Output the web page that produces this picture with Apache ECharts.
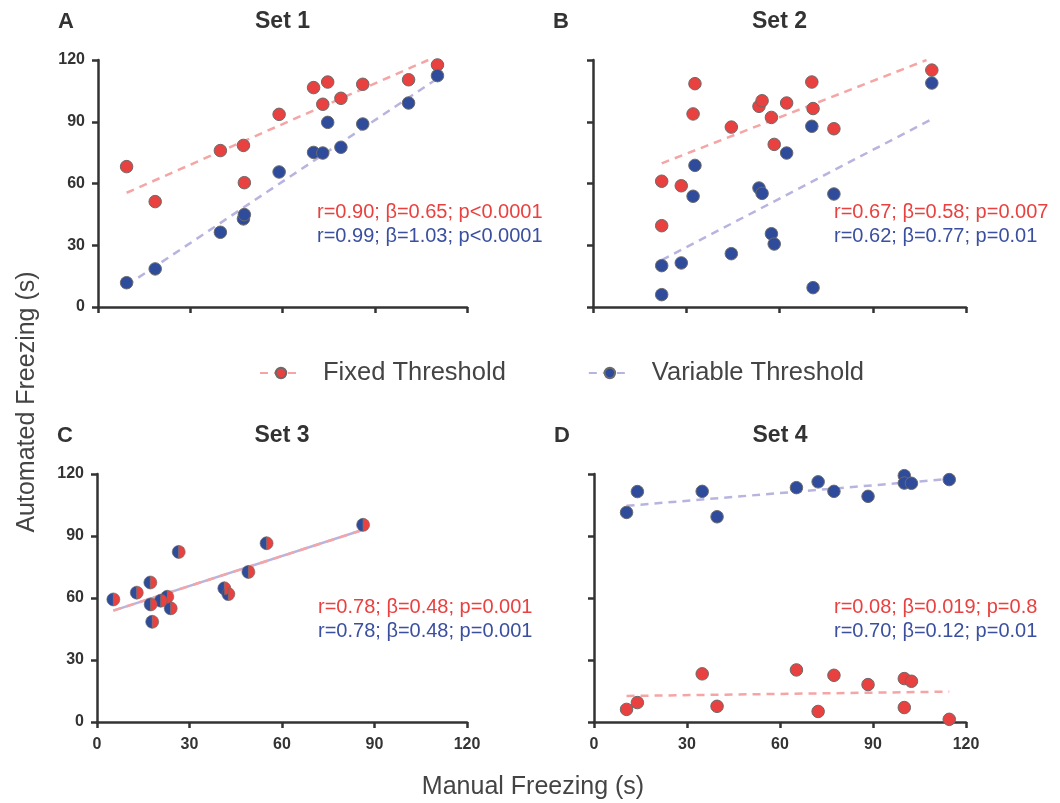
<!DOCTYPE html>
<html>
<head>
<meta charset="utf-8">
<script src="https://cdn.jsdelivr.net/npm/echarts@6/dist/echarts.min.js"></script>
<style>
  html, body { margin: 0; padding: 0; background: #fff; }
  #main { width: 1060px; height: 803px; }
</style>
</head>
<body>
<div id="main"></div>
<script>
// values (seconds)
const manual1 = [9.3, 18.6, 39.8, 47.3, 47.6, 58.9, 70.1, 73.1, 74.7, 79.0, 86.1, 101.0, 110.4];
const fixed1 = [68.2, 51.2, 76.0, 78.5, 60.4, 93.6, 106.6, 98.5, 109.3, 101.4, 108.2, 110.4, 117.6];
const variable1 = [11.8, 18.5, 36.3, 42.8, 44.9, 65.6, 75.1, 74.8, 89.7, 77.6, 88.9, 99.1, 112.4];

const manual2 = [22.1, 22.1, 28.4, 32.2, 32.8, 44.5, 53.4, 54.4, 57.4, 58.3, 62.3, 70.4, 70.8, 77.5, 109.0];
const fixed2 = [61.1, 39.5, 58.9, 93.8, 108.5, 87.4, 97.5, 100.2, 92.1, 79.0, 99.1, 109.3, 96.4, 86.6, 115.1];
const variable2 = [6.0, 20.1, 21.4, 53.8, 68.8, 25.9, 57.8, 55.2, 35.6, 30.6, 74.8, 87.8, 9.4, 54.9, 108.8];

const manual3 = [5.3, 12.9, 17.3, 17.4, 17.9, 20.7, 22.8, 23.9, 26.5, 41.3, 42.6, 49.1, 55.0, 86.3];
const fixed3 = [59.3, 62.6, 67.5, 56.9, 48.5, 58.7, 60.6, 55.0, 82.3, 64.7, 61.9, 72.6, 86.5, 95.4];
const variable3 = [59.3, 62.6, 67.5, 56.9, 48.5, 58.7, 60.6, 55.0, 82.3, 64.7, 61.9, 72.6, 86.5, 95.4];

const manual4 = [10.5, 14.0, 34.9, 39.7, 65.3, 72.3, 77.4, 88.4, 100.1, 100.1, 102.4, 114.6];
const fixed4 = [6.1, 9.4, 23.3, 7.6, 25.2, 5.1, 22.6, 18.1, 21.0, 7.0, 19.7, 1.3];
const variable4 = [101.4, 111.5, 111.6, 99.3, 113.4, 116.2, 111.6, 109.2, 119.2, 115.6, 115.5, 117.3];

// regression line end points [x, y]
const fitFixed = [
  [[9.3, 55.5], [107.4, 120]],
  [[22.1, 69.8], [107.3, 120]],
  [[5.3, 53.9], [86.3, 93.0]],
  [[10.5, 12.6], [114.6, 14.7]],
];
const fitVariable = [
  [[9.3, 10.5], [110.4, 111]],
  [[22.1, 22.8], [108.4, 90.8]],
  [[5.3, 53.9], [86.3, 93.0]],
  [[10.5, 104.6], [114.6, 117.6]],
];

const setTitles = ['Set 1', 'Set 2', 'Set 3', 'Set 4'];
const panelLetters = ['A', 'B', 'C', 'D'];
const statsFixed = [
  'r=0.90; β=0.65; p<0.0001',
  'r=0.67; β=0.58; p=0.007',
  'r=0.78; β=0.48; p=0.001',
  'r=0.08; β=0.019; p=0.8',
];
const statsVariable = [
  'r=0.99; β=1.03; p<0.0001',
  'r=0.62; β=0.77; p=0.01',
  'r=0.78; β=0.48; p=0.001',
  'r=0.70; β=0.12; p=0.01',
];
const axisTicks = [0, 30, 60, 90, 120];

const RED = '#e8413f';
const BLUE = '#2e4b9c';
const RED_LINE = '#f5a5a5';
const BLUE_LINE = '#b8b4e0';
const EDGE = '#6a6a6a';
const FONT = '"Liberation Sans", Arial, Helvetica, sans-serif';

const manuals = [manual1, manual2, manual3, manual4];
const fixeds = [fixed1, fixed2, fixed3, fixed4];
const variables = [variable1, variable2, variable3, variable4];

const grids = [
  { left: 98, top: 60, width: 369, height: 247 },
  { left: 593, top: 60, width: 373, height: 247 },
  { left: 97, top: 474, width: 370, height: 248 },
  { left: 594, top: 474, width: 372, height: 248 },
];

const zip = (xs, ys) => xs.map((x, i) => [x, ys[i]]);

function makeAxis(i, showLabel, margin) {
  return {
    gridIndex: i, type: 'value',
    min: axisTicks[0], max: axisTicks[axisTicks.length - 1], interval: 30,
    axisLine: { show: true, onZero: false, lineStyle: { color: '#333', width: 2.5 } },
    axisTick: { show: true, length: 6, lineStyle: { color: '#333', width: 2.5 } },
    axisLabel: {
      show: showLabel, margin: margin, color: '#333', fontWeight: 'bold',
      fontSize: 16, fontFamily: FONT,
    },
    splitLine: { show: false },
  };
}

const xAxis = grids.map((g, i) => makeAxis(i, i >= 2, 15));
const yAxis = grids.map((g, i) => makeAxis(i, i % 2 === 0, 13));

const series = [
  // legend entries only
  {
    name: 'Fixed Threshold', type: 'line', data: [], symbol: 'circle', symbolSize: 13,
    itemStyle: { color: RED, borderColor: EDGE, borderWidth: 1 },
    lineStyle: { color: RED_LINE, width: 3, type: [8, 6] },
  },
  {
    name: 'Variable Threshold', type: 'line', data: [], symbol: 'circle', symbolSize: 13,
    itemStyle: { color: BLUE, borderColor: EDGE, borderWidth: 1 },
    lineStyle: { color: BLUE_LINE, width: 3, type: [8, 6] },
  },
];

const halfLeft = 'path://M10,0 A10,10 0 0,0 10,20 Z';
const halfRight = 'path://M0,0 A10,10 0 0,1 0,20 Z';

for (let i = 0; i < 4; i++) {
  series.push({
    type: 'line', xAxisIndex: i, yAxisIndex: i, data: fitVariable[i],
    symbol: 'none', silent: true, z: 2,
    lineStyle: { color: BLUE_LINE, width: 2.5, type: i === 2 ? 'solid' : [8, 6] },
  });
  series.push({
    type: 'line', xAxisIndex: i, yAxisIndex: i, data: fitFixed[i],
    symbol: 'none', silent: true, z: 2,
    lineStyle: { color: RED_LINE, width: 2.5, type: [8, 6] },
  });
  if (i === 2) {
    // both thresholds give the same values: split marker
    series.push({
      type: 'scatter', xAxisIndex: i, yAxisIndex: i, z: 3,
      data: zip(manuals[i], variables[i]),
      symbol: halfLeft, symbolSize: [6.5, 13], symbolOffset: [-3.25, 0],
      itemStyle: { color: BLUE, borderColor: EDGE, borderWidth: 0.6, opacity: 1 },
    });
    series.push({
      type: 'scatter', xAxisIndex: i, yAxisIndex: i, z: 3,
      data: zip(manuals[i], fixeds[i]),
      symbol: halfRight, symbolSize: [6.5, 13], symbolOffset: [3.25, 0],
      itemStyle: { color: RED, borderColor: EDGE, borderWidth: 0.6, opacity: 1 },
    });
  } else {
    series.push({
      type: 'scatter', xAxisIndex: i, yAxisIndex: i, z: 3,
      data: zip(manuals[i], fixeds[i]), symbol: 'circle', symbolSize: 12.5,
      itemStyle: { color: RED, borderColor: EDGE, borderWidth: 1, opacity: 1 },
    });
    series.push({
      type: 'scatter', xAxisIndex: i, yAxisIndex: i, z: 3,
      data: zip(manuals[i], variables[i]), symbol: 'circle', symbolSize: 12.5,
      itemStyle: { color: BLUE, borderColor: EDGE, borderWidth: 1, opacity: 1 },
    });
  }
}

// stats text starts just right of the middle of each panel
const statsLeft = [317, 834, 318, 834];
const statsTop = [212, 212, 607, 607];

const graphic = [];
grids.forEach((g, i) => {
  graphic.push({
    type: 'text', x: g.left + g.width / 2, y: g.top - 38,
    style: { text: setTitles[i], font: 'bold 23px ' + FONT, fill: '#333', textAlign: 'center', textVerticalAlign: 'middle' },
  });
  graphic.push({
    type: 'text', x: g.left - 32, y: g.top - 38,
    style: { text: panelLetters[i], font: 'bold 22px ' + FONT, fill: '#333', textAlign: 'center', textVerticalAlign: 'middle' },
  });
  graphic.push({
    type: 'text', x: statsLeft[i], y: statsTop[i],
    style: { text: statsFixed[i], font: '20px ' + FONT, fill: RED, textAlign: 'left', textVerticalAlign: 'middle' },
  });
  graphic.push({
    type: 'text', x: statsLeft[i], y: statsTop[i] + 24,
    style: { text: statsVariable[i], font: '20px ' + FONT, fill: '#3a4fa0', textAlign: 'left', textVerticalAlign: 'middle' },
  });
});
graphic.push({
  type: 'text', x: 27, y: 402, rotation: Math.PI / 2,
  style: { text: 'Automated Freezing (s)', font: '25px ' + FONT, fill: '#444', textAlign: 'center', textVerticalAlign: 'middle' },
});
graphic.push({
  type: 'text', x: 533, y: 787,
  style: { text: 'Manual Freezing (s)', font: '25px ' + FONT, fill: '#444', textAlign: 'center', textVerticalAlign: 'middle' },
});

const chart = echarts.init(document.getElementById('main'), null, { renderer: 'canvas' });
chart.setOption({
  backgroundColor: '#fff',
  animation: false,
  grid: grids,
  xAxis: xAxis,
  yAxis: yAxis,
  legend: {
    data: ['Fixed Threshold', 'Variable Threshold'],
    left: 254, top: 355,
    itemWidth: 42, itemHeight: 13, itemGap: 82,
    textStyle: { fontSize: 25.5, color: '#444', fontFamily: FONT, padding: [0, 0, 0, 16] },
  },
  series: series,
  graphic: graphic,
});
</script>
</body>
</html>
